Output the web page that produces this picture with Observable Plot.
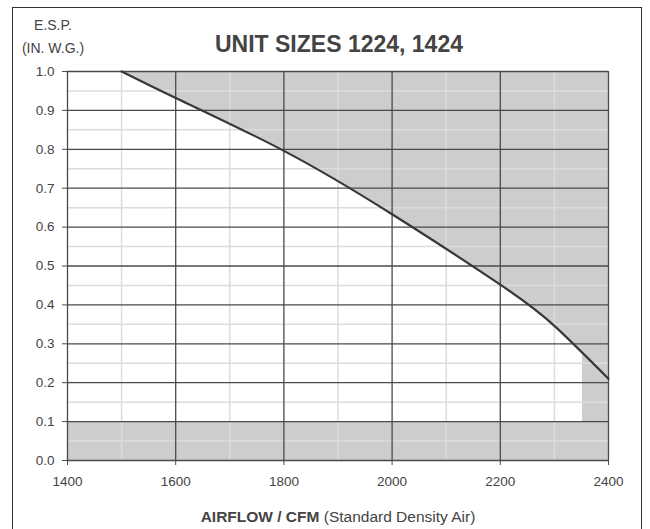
<!DOCTYPE html>
<html>
<head>
<meta charset="utf-8">
<script src="https://cdn.jsdelivr.net/npm/d3@7"></script>
<script src="https://cdn.jsdelivr.net/npm/@observablehq/plot@0.6"></script>
<style>
  html, body { margin: 0; padding: 0; background: #fff; overflow: hidden; }
  #wrap { position: relative; width: 650px; height: 529px; }
  #frame { position: absolute; left: 12px; top: 7px; width: 630px; height: 600px; border: 1px solid #333; box-sizing: border-box; pointer-events: none; }
  svg text { font-family: "Liberation Sans", Arial, Helvetica, sans-serif; }
</style>
</head>
<body>
<div id="wrap"><div id="frame"></div></div>
<script>
// Data
const cfm = [1500, 1600, 1800, 2000, 2200, 2300, 2400];
const esp = [1.0, 0.932, 0.796, 0.633, 0.452, 0.346, 0.21];
const xTicks = [1400, 1600, 1800, 2000, 2200, 2400];
const xMinor = [1500, 1700, 1900, 2100, 2300];
const yTicks = [0, 0.1, 0.2, 0.3, 0.4, 0.5, 0.6, 0.7, 0.8, 0.9, 1.0];
const yMinor = [0.05, 0.15, 0.25, 0.35, 0.45, 0.55, 0.65, 0.75, 0.85, 0.95];
const yTickLabels = ["0.0", "0.1", "0.2", "0.3", "0.4", "0.5", "0.6", "0.7", "0.8", "0.9", "1.0"];
// shaded (out of range) zones: bottom ESP limit, high-airflow limit
const zoneX1 = [1400, 2352];
const zoneX2 = [2400, 2400];
const zoneY1 = [0, 0.1];
const zoneY2 = [0.1, 0.3];

const curve = cfm.map((c, i) => ({cfm: c, esp: esp[i]}));
const zones = zoneX1.map((v, i) => ({x1: v, x2: zoneX2[i], y1: zoneY1[i], y2: zoneY2[i]}));

const shade = "#cdcdd0";
const dark = "#4a4a4a";

const chart = Plot.plot({
  width: 650,
  height: 529,
  marginLeft: 67,
  marginRight: 42,
  marginTop: 71,
  marginBottom: 69,
  style: {fontFamily: '"Liberation Sans", Arial, sans-serif', fontSize: "13.5px", color: "#444", background: "transparent"},
  x: {domain: [1400, 2400]},
  y: {domain: [0, 1]},
  marks: [
    Plot.areaY(curve, {x: "cfm", y1: "esp", y2: 1, fill: shade, curve: "natural"}),
    Plot.rect(zones, {x1: "x1", x2: "x2", y1: "y1", y2: "y2", fill: shade}),
    Plot.ruleX(xMinor, {stroke: "#dcdcdc", strokeWidth: 1.5}),
    Plot.ruleY(yMinor, {stroke: "#dcdcdc", strokeWidth: 1.5}),
    Plot.ruleX(xTicks, {stroke: dark, strokeWidth: 1.3}),
    Plot.ruleY(yTicks, {stroke: dark, strokeWidth: 1.3}),
    Plot.line(curve, {x: "cfm", y: "esp", stroke: "#383838", strokeWidth: 2.2, curve: "natural"}),
    Plot.axisX({ticks: xTicks, tickSize: 5, tickPadding: 11, tickFormat: d => String(d), label: null, stroke: dark}),
    Plot.axisY({ticks: yTicks, tickSize: 5, tickPadding: 8, tickFormat: d => yTickLabels[yTicks.indexOf(d)], label: null, stroke: dark})
  ]
});

const wrap = document.getElementById("wrap");
chart.style.position = "absolute";
chart.style.left = "0px";
chart.style.top = "0px";
wrap.insertBefore(chart, wrap.firstChild);

const svg = d3.select(chart);
const g = svg.append("g").attr("fill", "#444");
g.append("text").attr("x", 339).attr("y", 52).attr("text-anchor", "middle")
  .attr("font-size", "23px").attr("font-weight", "bold").text("UNIT SIZES 1224, 1424");
g.append("text").attr("x", 53).attr("y", 30).attr("text-anchor", "middle")
  .attr("font-size", "14px").text("E.S.P.");
g.append("text").attr("x", 53).attr("y", 53).attr("text-anchor", "middle")
  .attr("font-size", "14px").text("(IN. W.G.)");
const xl = g.append("text").attr("x", 338).attr("y", 522).attr("text-anchor", "middle").attr("font-size", "15.5px");
xl.append("tspan").attr("font-weight", "bold").text("AIRFLOW / CFM");
xl.append("tspan").text(" (Standard Density Air)");
</script>
</body>
</html>
